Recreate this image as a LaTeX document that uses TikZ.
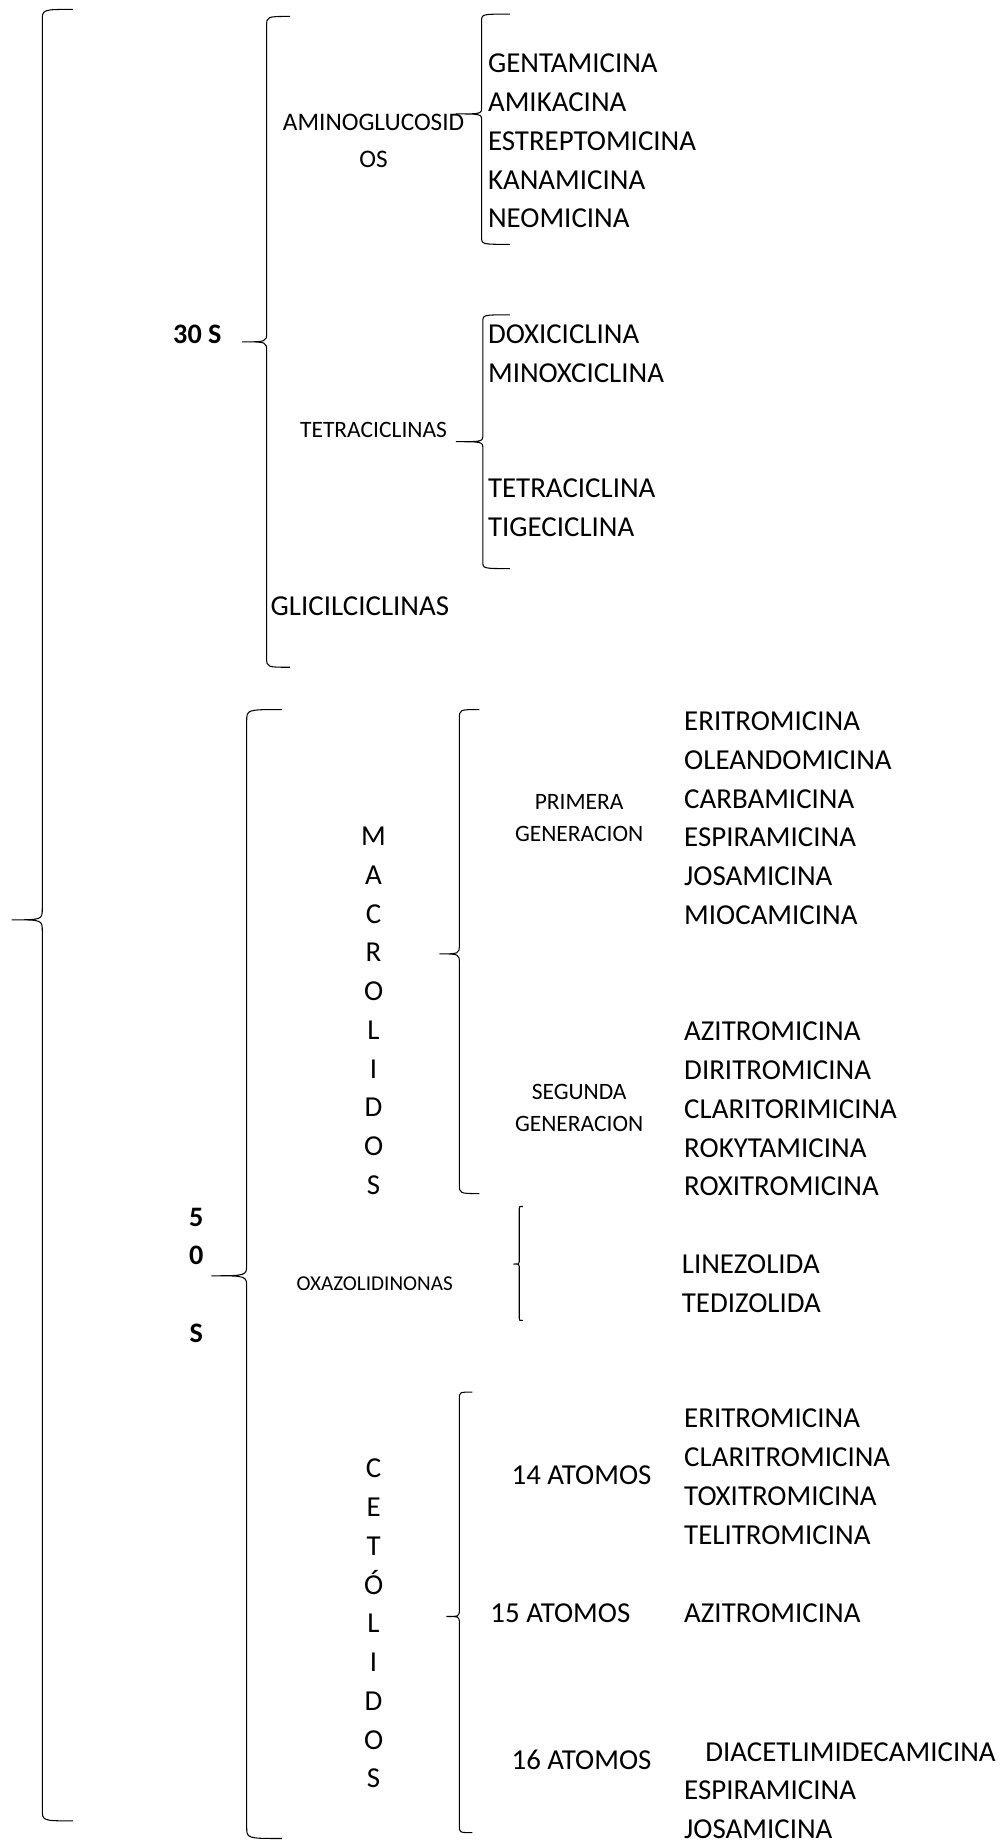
\documentclass[tikz,border=0pt]{standalone}
\usepackage{fontspec}
\setmainfont{Carlito}
\usetikzlibrary{positioning}

% llave: x, arriba, centro, abajo, punta, pico, radio
\newcommand{\llave}[7]{%
  \draw ({#1+#5},#2) .. controls (#1,#2) .. (#1,{#2+#7}) -- (#1,{#3-#7})
    .. controls (#1,#3) .. ({#1-#6},#3) .. controls (#1,#3) .. (#1,{#3+#7})
    -- (#1,{#4-#7}) .. controls (#1,#4) .. ({#1+#5},#4);}

\begin{document}
\begin{tikzpicture}[x=1pt, y=-1pt, line width=0.9pt]
  \tikzstyle{droga}=[font=\fontsize{24.6}{33}\selectfont, align=left, anchor=west, inner sep=0pt]
  \tikzstyle{grupo}=[font=\fontsize{20}{27}\selectfont, align=center, inner sep=0pt]
  \tikzstyle{sub}=[font=\bfseries\fontsize{24}{33}\selectfont, align=center, inner sep=0pt]
  \useasboundingbox (0,0) rectangle (857,1568);

  % llaves
  \llave{36}{8}{783}{1550}{26}{26}{10}
  \llave{227}{14}{291}{568}{20}{21}{8}
  \llave{410}{12}{97}{208}{24}{22}{6}
  \llave{411}{268}{376}{484}{23}{23}{6}
  \llave{210}{604}{1086}{1565}{30}{30}{10}
  \llave{391}{604}{812}{1016}{17}{17}{8}
  \llave{442}{1027}{1076}{1124}{3}{5}{2}
  \llave{391}{1185}{1376}{1560}{11}{11}{6}

  % 30 S
  \node (s30) [sub] at (168,285) {30 S};
  \node (amino) [grupo, font=\fontsize{21.5}{31.6}\selectfont] at (318,120) {AMINOGLUCOSID\\OS};
  \node (lamino) [droga] at (415,120) {GENTAMICINA\\AMIKACINA\\ESTREPTOMICINA\\KANAMICINA\\NEOMICINA};
  \node (tetra) [grupo] at (318,366) {TETRACICLINAS};
  \node (ltetra1) [droga] at (415,301) {DOXICICLINA\\MINOXCICLINA};
  \node (ltetra2) [droga] at (415,432) {TETRACICLINA\\TIGECICLINA};
  \node (glici) [droga] at (230,516) {GLICILCICLINAS};

  % 50 S
  \node (s50) [sub] at (167,1085.5) {5\\0\\\mbox{}\\S};
  \node (macro) [droga, anchor=center, align=center] at (318,860.5) {M\\A\\C\\R\\O\\L\\I\\D\\O\\S};
  \node (gen1) [grupo] at (493,696.5) {PRIMERA\\GENERACION};
  \node (gen2) [grupo] at (493,943) {SEGUNDA\\GENERACION};
  \node (lgen1) [droga] at (582,696.5) {ERITROMICINA\\OLEANDOMICINA\\CARBAMICINA\\ESPIRAMICINA\\JOSAMICINA\\MIOCAMICINA};
  \node (lgen2) [droga] at (582,944) {AZITROMICINA\\DIRITROMICINA\\CLARITORIMICINA\\ROKYTAMICINA\\ROXITROMICINA};
  \node (oxa) [grupo, font=\fontsize{18}{27}\selectfont] at (319,1093) {OXAZOLIDINONAS};
  \node (loxa) [droga] at (580,1093) {LINEZOLIDA\\TEDIZOLIDA};
  \node (ceto) [droga, anchor=center, align=center] at (318,1382) {C\\E\\T\\Ó\\L\\I\\D\\O\\S};
  \node (at14) [droga, anchor=center] at (495,1256) {14 ATOMOS};
  \node (at15) [droga, anchor=center] at (477,1373) {15 ATOMOS};
  \node (at16) [droga, anchor=center] at (495,1498) {16 ATOMOS};
  \node (l14) [droga] at (582,1257) {ERITROMICINA\\CLARITROMICINA\\TOXITROMICINA\\TELITROMICINA};
  \node (l15) [droga] at (582,1373) {AZITROMICINA};
  \node (l16a) [droga] at (600,1491.5) {DIACETLIMIDECAMICINA};
  \node (l16b) [droga] at (582,1540.5) {ESPIRAMICINA\\JOSAMICINA};
\end{tikzpicture}
\end{document}
